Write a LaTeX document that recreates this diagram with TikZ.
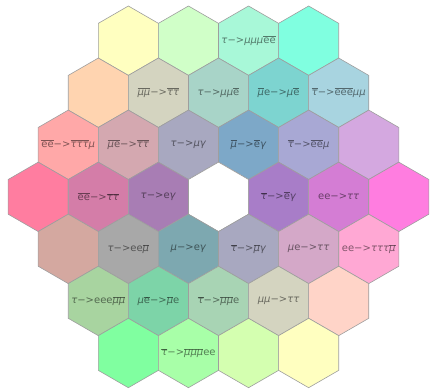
\documentclass[tikz,border=0pt]{standalone}
\usepackage{fontspec}
\setmainfont{DejaVu Sans}
\usetikzlibrary{shapes.geometric}
\newcommand\gtau{\textit{τ}}
\newcommand\gmu{\textit{μ}}
\newcommand\ggam{\textit{γ}}
\newcommand\ob[1]{$\overline{\hbox{#1}}$}
\newcommand\ar{−>}
\begin{document}
\begin{tikzpicture}[x=1pt,y=-1pt,
  hexcell/.style={shape=regular polygon, regular polygon sides=6, shape border rotate=30,
    minimum size=69.4pt, inner sep=0pt, outer sep=0pt, draw=black!38, line width=0.6pt},
  hextext/.style={inner sep=0pt, text=black, text opacity=0.5, font=\fontsize{10}{11}\selectfont}]
\useasboundingbox (0,0) rectangle (430,388);
% row 1
\node[hexcell, fill={rgb,255:red,255;green,255;blue,192}] (h11) at (128.35,40.7) {};
\node[hexcell, fill={rgb,255:red,208;green,255;blue,200}] (h12) at (188.45,40.7) {};
\node[hexcell, fill={rgb,255:red,168;green,248;blue,216}] (h13) at (248.55,40.7) {};
\node[hexcell, fill={rgb,255:red,128;green,255;blue,224}] (h14) at (308.65,40.7) {};
% row 2
\node[hexcell, fill={rgb,255:red,255;green,212;blue,176}] (h21) at (98.3,92.75) {};
\node[hexcell, fill={rgb,255:red,212;green,212;blue,192}] (h22) at (158.4,92.75) {};
\node[hexcell, fill={rgb,255:red,168;green,212;blue,200}] (h23) at (218.5,92.75) {};
\node[hexcell, fill={rgb,255:red,125;green,212;blue,208}] (h24) at (278.6,92.75) {};
\node[hexcell, fill={rgb,255:red,168;green,212;blue,224}] (h25) at (338.7,92.75) {};
% row 3
\node[hexcell, fill={rgb,255:red,255;green,168;blue,168}] (h31) at (68.25,144.8) {};
\node[hexcell, fill={rgb,255:red,212;green,168;blue,176}] (h32) at (128.35,144.8) {};
\node[hexcell, fill={rgb,255:red,168;green,168;blue,192}] (h33) at (188.45,144.8) {};
\node[hexcell, fill={rgb,255:red,125;green,168;blue,200}] (h34) at (248.55,144.8) {};
\node[hexcell, fill={rgb,255:red,168;green,168;blue,212}] (h35) at (308.65,144.8) {};
\node[hexcell, fill={rgb,255:red,212;green,168;blue,224}] (h36) at (368.75,144.8) {};
% row 4
\node[hexcell, fill={rgb,255:red,255;green,125;blue,160}] (h41) at (38.2,196.85) {};
\node[hexcell, fill={rgb,255:red,212;green,125;blue,168}] (h42) at (98.3,196.85) {};
\node[hexcell, fill={rgb,255:red,168;green,125;blue,180}] (h43) at (158.4,196.85) {};
\node[hexcell, fill=white] (h44) at (218.5,196.85) {};
\node[hexcell, fill={rgb,255:red,168;green,125;blue,200}] (h45) at (278.6,196.85) {};
\node[hexcell, fill={rgb,255:red,212;green,125;blue,212}] (h46) at (338.7,196.85) {};
\node[hexcell, fill={rgb,255:red,255;green,125;blue,224}] (h47) at (398.8,196.85) {};
% row 5
\node[hexcell, fill={rgb,255:red,212;green,168;blue,160}] (h51) at (68.25,248.9) {};
\node[hexcell, fill={rgb,255:red,168;green,168;blue,168}] (h52) at (128.35,248.9) {};
\node[hexcell, fill={rgb,255:red,125;green,168;blue,176}] (h53) at (188.45,248.9) {};
\node[hexcell, fill={rgb,255:red,168;green,168;blue,192}] (h54) at (248.55,248.9) {};
\node[hexcell, fill={rgb,255:red,212;green,168;blue,200}] (h55) at (308.65,248.9) {};
\node[hexcell, fill={rgb,255:red,255;green,168;blue,212}] (h56) at (368.75,248.9) {};
% row 6
\node[hexcell, fill={rgb,255:red,168;green,212;blue,160}] (h61) at (98.3,300.95) {};
\node[hexcell, fill={rgb,255:red,125;green,212;blue,168}] (h62) at (158.4,300.95) {};
\node[hexcell, fill={rgb,255:red,168;green,212;blue,180}] (h63) at (218.5,300.95) {};
\node[hexcell, fill={rgb,255:red,212;green,212;blue,192}] (h64) at (278.6,300.95) {};
\node[hexcell, fill={rgb,255:red,255;green,212;blue,200}] (h65) at (338.7,300.95) {};
% row 7
\node[hexcell, fill={rgb,255:red,128;green,255;blue,160}] (h71) at (128.35,353.0) {};
\node[hexcell, fill={rgb,255:red,168;green,255;blue,168}] (h72) at (188.45,353.0) {};
\node[hexcell, fill={rgb,255:red,212;green,255;blue,176}] (h73) at (248.55,353.0) {};
\node[hexcell, fill={rgb,255:red,255;green,255;blue,192}] (h74) at (308.65,353.0) {};
% labels
\node[hextext] (t13) at (h13) {\gtau\ar\gmu\gmu\gmu\ob{e}\ob{e}};
\node[hextext] (t22) at (h22) {\ob{\gmu}\ob{\gmu}\ar\ob{\gtau}\ob{\gtau}};
\node[hextext] (t23) at (h23) {\gtau\ar\gmu\gmu\ob{e}};
\node[hextext] (t24) at (h24) {\ob{\gmu}e\ar\gmu\ob{e}};
\node[hextext] (t25) at (h25) {\ob{\gtau}\ar\ob{e}\ob{e}\ob{e}\gmu\gmu};
\node[hextext] (t31) at (h31) {\ob{e}\ob{e}\ar\ob{\gtau}\ob{\gtau}\ob{\gtau}\gmu};
\node[hextext] (t32) at (h32) {\ob{\gmu}\ob{e}\ar\ob{\gtau}\ob{\gtau}};
\node[hextext] (t33) at (h33) {\gtau\ar\gmu\ggam};
\node[hextext] (t34) at (h34) {\ob{\gmu}\ar\ob{e}\ggam};
\node[hextext] (t35) at (h35) {\ob{\gtau}\ar\ob{e}\ob{e}\gmu};
\node[hextext] (t42) at (h42) {\ob{e}\ob{e}\ar\ob{\gtau}\ob{\gtau}};
\node[hextext] (t43) at (h43) {\gtau\ar e\ggam};
\node[hextext] (t45) at (h45) {\ob{\gtau}\ar\ob{e}\ggam};
\node[hextext] (t46) at (h46) {ee\ar\gtau\gtau};
\node[hextext] (t52) at (h52) {\gtau\ar ee\ob{\gmu}};
\node[hextext] (t53) at (h53) {\gmu\ar e\ggam};
\node[hextext] (t54) at (h54) {\ob{\gtau}\ar\ob{\gmu}\ggam};
\node[hextext] (t55) at (h55) {\gmu e\ar\gtau\gtau};
\node[hextext] (t56) at (h56) {ee\ar\gtau\gtau\gtau\ob{\gmu}};
\node[hextext] (t61) at (h61) {\gtau\ar eee\ob{\gmu}\ob{\gmu}};
\node[hextext] (t62) at (h62) {\gmu\ob{e}\ar\ob{\gmu}e};
\node[hextext] (t63) at (h63) {\ob{\gtau}\ar\ob{\gmu}\ob{\gmu}e};
\node[hextext] (t64) at (h64) {\gmu\gmu\ar\gtau\gtau};
\node[hextext] (t72) at (h72) {\ob{\gtau}\ar\ob{\gmu}\ob{\gmu}\ob{\gmu}ee};
\end{tikzpicture}
\end{document}
